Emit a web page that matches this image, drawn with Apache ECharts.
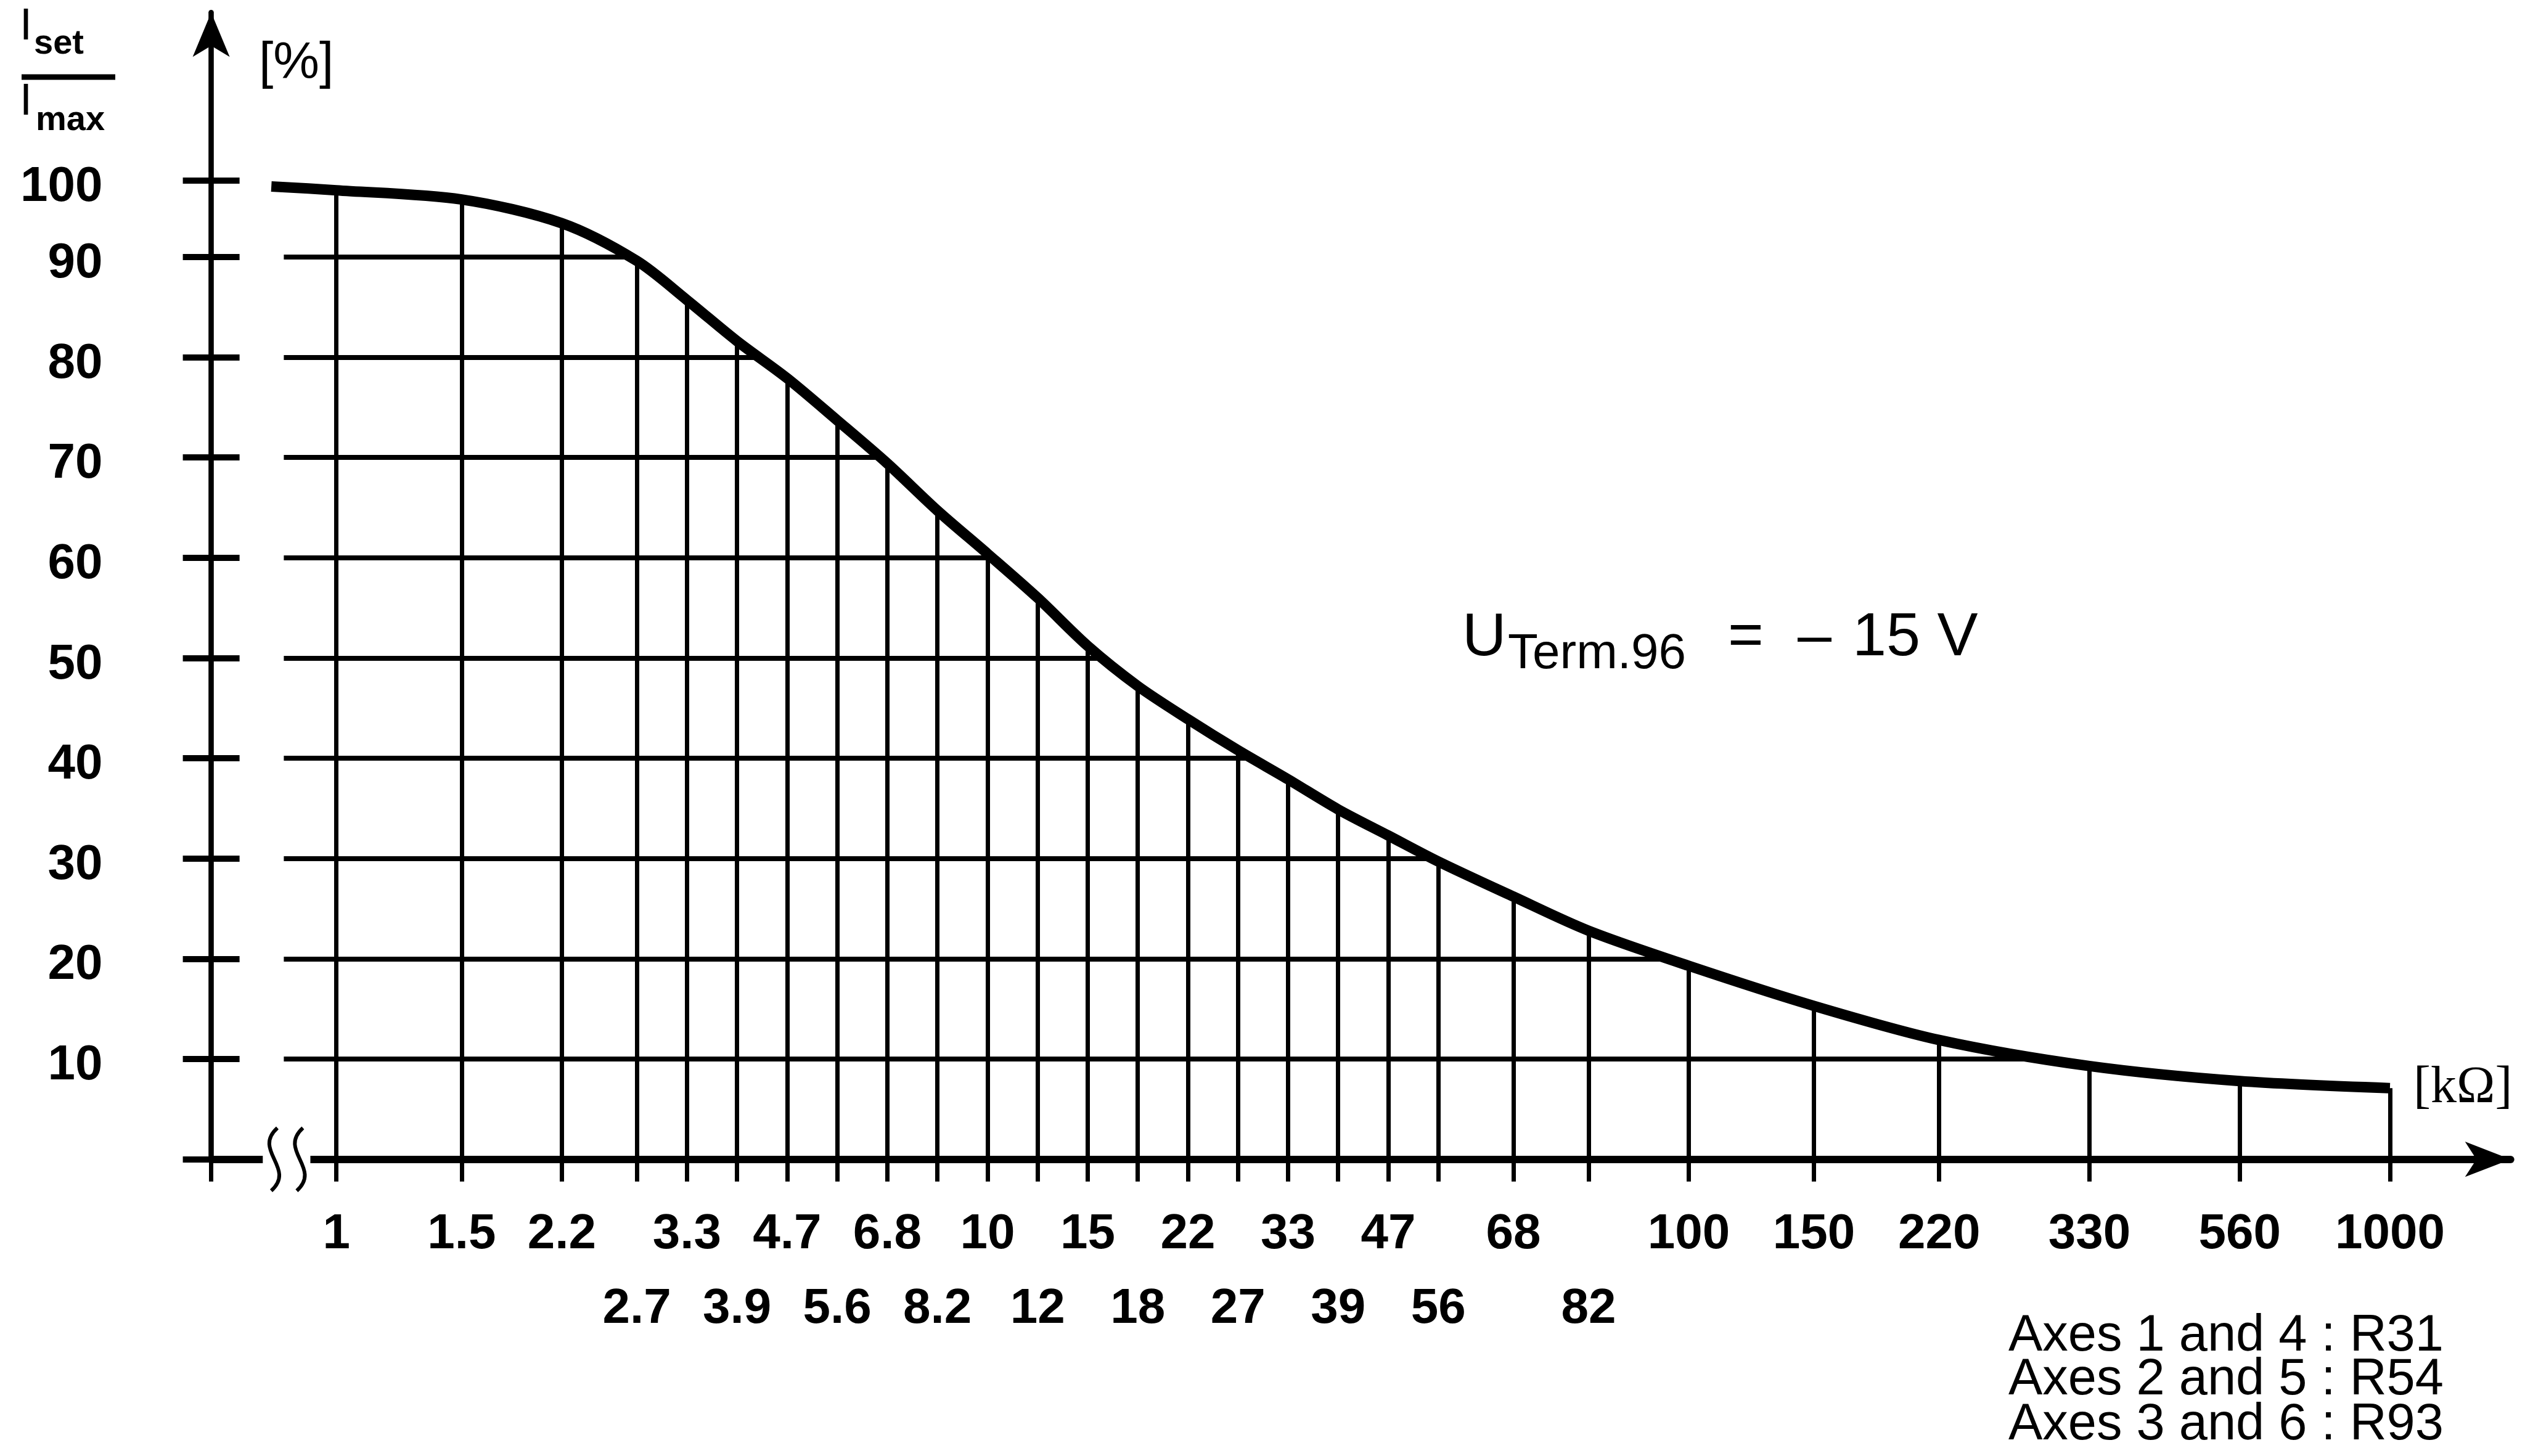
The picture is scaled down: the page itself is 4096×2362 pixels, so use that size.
<!DOCTYPE html>
<html>
<head>
<meta charset="utf-8">
<script src="https://cdn.jsdelivr.net/npm/echarts@6/dist/echarts.min.js"></script>
<style>
html, body { margin: 0; padding: 0; background: #ffffff; }
#chart { width: 4096px; height: 2362px; }
</style>
</head>
<body>
<div id="chart"></div>
<script>
// ---------------- DATA ----------------
// Resistance ticks of the printed (non-linear) scale, kΩ
const xTickValues = [1, 1.5, 2.2, 2.7, 3.3, 3.9, 4.7, 5.6, 6.8, 8.2, 10, 12, 15, 18, 22, 27, 33, 39, 47, 56, 68, 82, 100, 150, 220, 330, 560, 1000];
// Where each tick sits on the printed scale (in grid steps counted from the y axis)
const xScaleSteps = [2.5, 5, 7, 8.5, 9.5, 10.5, 11.5, 12.5, 13.5, 14.5, 15.5, 16.5, 17.5, 18.5, 19.5, 20.5, 21.5, 22.5, 23.5, 24.5, 26, 27.5, 29.5, 32, 34.5, 37.5, 40.5, 43.5];
// Tick labels, upper and lower row
const xUpperLabels = ['1', '1.5', '2.2', '3.3', '4.7', '6.8', '10', '15', '22', '33', '47', '68', '100', '150', '220', '330', '560', '1000'];
const xLowerLabels = ['2.7', '3.9', '5.6', '8.2', '12', '18', '27', '39', '56', '82'];
// y ticks (%)
const yTickValues = [10, 20, 30, 40, 50, 60, 70, 80, 90, 100];
const yTickLabels = ['10', '20', '30', '40', '50', '60', '70', '80', '90', '100'];
// Curve: I_set / I_max [%] against resistance [kΩ]
const curveResistance = [0.81, 1, 1.5, 2.2, 2.7, 3.3, 3.9, 4.7, 5.6, 6.8, 8.2, 10, 12, 15, 18, 22, 27, 33, 39, 47, 56, 68, 82, 100, 150, 220, 330, 560, 1000];
const curvePercent = [99.2, 98.7, 97.5, 94.4, 89.6, 85.7, 81.6, 77.9, 73.7, 69.4, 64.7, 60.4, 56.0, 51.2, 47.2, 43.9, 40.8, 37.9, 34.9, 32.3, 29.7, 26.2, 22.8, 19.3, 15.3, 11.9, 9.3, 7.8, 7.1];

// ---------------- SCALES (printed axes are not linear) ----------------
const Y_TOP_SQUEEZE = 0.7645;       // the 90..100 band is printed compressed
function yPos(v) { return v <= 90 ? v : 90 + (v - 90) * Y_TOP_SQUEEZE; }
function xPos(r) {
  const n = xTickValues.length;
  let i = 0;
  if (r >= xTickValues[n - 1]) i = n - 2;
  else if (r > xTickValues[0]) { while (xTickValues[i + 1] < r) i++; }
  const a = Math.log(xTickValues[i]), b = Math.log(xTickValues[i + 1]);
  return xScaleSteps[i] + (Math.log(r) - a) / (b - a) * (xScaleSteps[i + 1] - xScaleSteps[i]);
}
function tickStep(label) { return xScaleSteps[xTickValues.indexOf(Number(label))]; }

// ---------------- LAYOUT ----------------
const X_MAX = 45.91, Y_MAX = 114.38;
const GRID_START = 1.45;
const BREAK_FROM = 1.03, BREAK_TO = 1.98, BREAK_S = [1.26, 1.77];
const FONT = '"Liberation Sans", Arial, sans-serif';

const curveData = curveResistance.map((r, i) => [xPos(r), yPos(curvePercent[i])]);

// x where the curve (through the read points) reaches a level
function curveXAt(level) {
  for (let i = 0; i < curveData.length - 1; i++) {
    const p = curveData[i], q = curveData[i + 1];
    if (p[1] >= level && q[1] <= level) {
      return p[0] + (p[1] - level) / (p[1] - q[1]) * (q[0] - p[0]);
    }
  }
  return null;
}

const gridLines = [];
xTickValues.forEach((r, i) => {
  const v = curvePercent[curveResistance.indexOf(r)];
  gridLines.push({ coords: [[xScaleSteps[i], 0], [xScaleSteps[i], yPos(v)]], lineStyle: { width: 7 } });
});
yTickValues.forEach(v => {
  const xe = curveXAt(yPos(v));
  if (xe !== null && xe > GRID_START) gridLines.push({ coords: [[GRID_START, yPos(v)], [xe, yPos(v)]], lineStyle: { width: 8 } });
});

const yTickPositions = yTickValues.map(yPos);
const upperPos = xUpperLabels.map(tickStep);
const lowerPos = xLowerLabels.map(tickStep);
function labelAt(positions, labels) {
  return function (val) {
    const i = positions.findIndex(p => Math.abs(p - val) < 1e-6);
    return i >= 0 ? labels[i] : '';
  };
}

const chart = echarts.init(document.getElementById('chart'), null, { renderer: 'canvas' });
const option = {
  animation: false,
  backgroundColor: '#ffffff',
  grid: { left: 342.6, right: 23.3, top: 20.3, bottom: 481.3, containLabel: false, outerBoundsMode: 'none' },
  xAxis: [
    {
      type: 'value', min: 0, max: X_MAX, position: 'bottom',
      axisLine: { show: true, onZero: false, symbol: ['none', 'arrow'], symbolSize: [43, 74], lineStyle: { color: '#000', width: 12 } },
      axisTick: { show: true, inside: false, length: 36, customValues: [0].concat(xScaleSteps), lineStyle: { color: '#000', width: 7 } },
      axisLabel: { show: true, customValues: upperPos, formatter: labelAt(upperPos, xUpperLabels), margin: 82,
        color: '#000', fontSize: 80, fontWeight: 'bold', fontFamily: FONT, hideOverlap: false },
      splitLine: { show: false }
    },
    {
      type: 'value', min: 0, max: X_MAX, position: 'bottom', offset: 121,
      axisLine: { show: false, onZero: false },
      axisTick: { show: false },
      axisLabel: { show: true, customValues: lowerPos, formatter: labelAt(lowerPos, xLowerLabels), margin: 82,
        color: '#000', fontSize: 80, fontWeight: 'bold', fontFamily: FONT, hideOverlap: false },
      splitLine: { show: false }
    }
  ],
  yAxis: [
    {
      type: 'value', min: 0, max: Y_MAX, position: 'left',
      axisLine: { show: true, onZero: false, symbol: ['none', 'arrow'], symbolSize: [45, 72], lineStyle: { color: '#000', width: 8.6 } },
      axisTick: { show: true, inside: false, length: 46, customValues: [0].concat(yTickPositions), lineStyle: { color: '#000', width: 10 } },
      axisLabel: { show: true, customValues: yTickPositions, formatter: labelAt(yTickPositions, yTickLabels), margin: 176,
        color: '#000', fontSize: 80, fontWeight: 'bold', fontFamily: FONT, verticalAlign: 'top', lineHeight: 22, hideOverlap: false },
      splitLine: { show: false }
    },
    {
      type: 'value', min: 0, max: Y_MAX, position: 'left', offset: 0,
      axisLine: { show: false, onZero: false },
      axisTick: { show: true, inside: true, length: 46, customValues: yTickPositions, lineStyle: { color: '#000', width: 10 } },
      axisLabel: { show: false },
      splitLine: { show: false }
    }
  ],
  series: [
    {
      type: 'lines', coordinateSystem: 'cartesian2d', xAxisIndex: 0, yAxisIndex: 0, z: 1, silent: true,
      polyline: false,
      lineStyle: { color: '#000', opacity: 1, curveness: 0 },
      data: gridLines
    },
    {
      type: 'line', xAxisIndex: 0, yAxisIndex: 0, z: 3, silent: true,
      data: curveData,
      showSymbol: false, symbol: 'none',
      smooth: 0.3,
      lineStyle: { color: '#000', width: 17, cap: 'butt', join: 'round' }
    },
    {
      type: 'custom', coordinateSystem: 'cartesian2d', xAxisIndex: 0, yAxisIndex: 0, z: 6, silent: true, clip: false,
      data: [[BREAK_FROM, 0]],
      renderItem: function (params, api) {
        const a = api.coord([BREAK_FROM, 0]);
        const b = api.coord([BREAK_TO, 0]);
        const children = [{ type: 'rect', shape: { x: a[0], y: a[1] - 12, width: b[0] - a[0], height: 24 }, style: { fill: '#fff' } }];
        BREAK_S.forEach(function (s) {
          const c = api.coord([s, 0]);
          children.push({
            type: 'bezierCurve',
            shape: { x1: c[0] + 5, y1: c[1] - 51, cpx1: c[0] - 36, cpy1: c[1] - 14, cpx2: c[0] + 36, cpy2: c[1] + 14, x2: c[0] - 5, y2: c[1] + 51 },
            style: { stroke: '#000', lineWidth: 6, fill: null }
          });
        });
        return { type: 'group', children: children };
      }
    }
  ],
  graphic: [
    { type: 'text', z: 100, x: 32, y: 44, style: { text: 'I', fontSize: 72, fontFamily: FONT, fill: '#000', verticalAlign: 'middle' } },
    { type: 'text', z: 100, x: 55, y: 72, style: { text: 'set', fontSize: 56, fontWeight: 'bold', fontFamily: FONT, fill: '#000', verticalAlign: 'middle' } },
    { type: 'line', z: 100, shape: { x1: 35, y1: 125, x2: 187, y2: 125 }, style: { stroke: '#000', lineWidth: 9 } },
    { type: 'text', z: 100, x: 32, y: 166, style: { text: 'I', fontSize: 72, fontFamily: FONT, fill: '#000', verticalAlign: 'middle' } },
    { type: 'text', z: 100, x: 58, y: 196, style: { text: 'max', fontSize: 56, fontWeight: 'bold', fontFamily: FONT, fill: '#000', verticalAlign: 'middle' } },
    { type: 'text', z: 100, x: 420, y: 104, style: { text: '[%]', fontSize: 84, fontFamily: FONT, fill: '#000', verticalAlign: 'middle' } },
    { type: 'text', z: 100, x: 3915, y: 1766, style: { text: '[kΩ]', fontSize: 84, fontFamily: '"Liberation Serif", serif', fill: '#000', verticalAlign: 'middle' } },
    { type: 'text', z: 100, x: 2372, y: 1036, style: { text: 'U', fontSize: 99, fontFamily: FONT, fill: '#000', verticalAlign: 'middle' } },
    { type: 'text', z: 100, x: 2446, y: 1062, style: { text: 'Term.96', fontSize: 80, fontFamily: FONT, fill: '#000', verticalAlign: 'middle' } },
    { type: 'text', z: 100, x: 2803, y: 1036, style: { text: '=', fontSize: 99, fontFamily: FONT, fill: '#000', verticalAlign: 'middle' } },
    { type: 'text', z: 100, x: 2916, y: 1036, style: { text: '–', fontSize: 99, fontFamily: FONT, fill: '#000', verticalAlign: 'middle' } },
    { type: 'text', z: 100, x: 3005, y: 1036, style: { text: '15 V', fontSize: 99, fontFamily: FONT, fill: '#000', verticalAlign: 'middle' } },
    { type: 'text', z: 100, x: 3258, y: 2168, style: { text: 'Axes 1 and 4 : R31', fontSize: 83, fontFamily: FONT, fill: '#000', verticalAlign: 'middle' } },
    { type: 'text', z: 100, x: 3258, y: 2239, style: { text: 'Axes 2 and 5 : R54', fontSize: 83, fontFamily: FONT, fill: '#000', verticalAlign: 'middle' } },
    { type: 'text', z: 100, x: 3258, y: 2312, style: { text: 'Axes 3 and 6 : R93', fontSize: 83, fontFamily: FONT, fill: '#000', verticalAlign: 'middle' } }
  ]
};
chart.setOption(option);
</script>
</body>
</html>
